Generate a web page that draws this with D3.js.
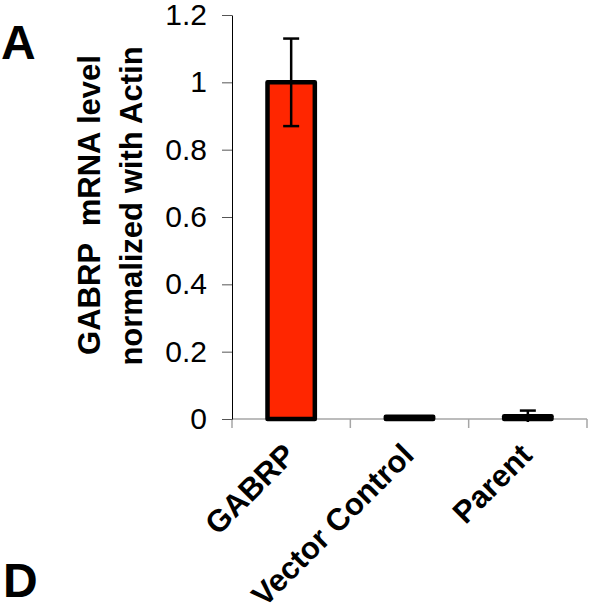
<!DOCTYPE html>
<html>
<head>
<meta charset="utf-8">
<script src="https://cdn.jsdelivr.net/npm/d3@7"></script>
<style>
  body { margin: 0; background: #fff; }
  svg { font-family: "Liberation Sans", Arial, sans-serif; }
</style>
</head>
<body>
<div class="canvas"></div>
<script>
// chart data
const categories = ['GABRP', 'Vector Control', 'Parent'];
const values = [1.0, 0.007, 0.008];
const errors = [0.13, 0, 0.017];
const yTicks = [0, 0.2, 0.4, 0.6, 0.8, 1, 1.2];

const svg = d3.select('.canvas')
  .append('svg')
    .attr('width', 597)
    .attr('height', 606);

// margins & dimensions
const margin = {top: 15, right: 10, bottom: 187, left: 232};
const graphWidth = 587 - margin.left;
const graphHeight = 606 - margin.top - margin.bottom;

const graph = svg.append('g')
  .attr('transform', `translate(${margin.left}, ${margin.top})`);

const y = d3.scaleLinear()
  .domain([0, 1.2])
  .range([graphHeight, 0]);

const x = d3.scaleBand()
  .domain(categories)
  .range([0, graphWidth])
  .paddingInner(0.6)
  .paddingOuter(0.3);

const cx = d => x(d) + x.bandwidth() / 2;

// x axis line & ticks (grey)
const xAxisGroup = graph.append('g')
  .attr('transform', `translate(0, ${graphHeight})`);
const bounds = [0, graphWidth / 3, 2 * graphWidth / 3, graphWidth];
xAxisGroup.append('line')
  .attr('x1', 0).attr('x2', graphWidth)
  .attr('stroke', '#a6a6a6').attr('stroke-width', 1.5);
xAxisGroup.selectAll('line.tk')
  .data(bounds)
  .enter().append('line')
    .attr('class', 'tk')
    .attr('x1', d => d).attr('x2', d => d)
    .attr('y1', 0).attr('y2', 9)
    .attr('stroke', '#a6a6a6').attr('stroke-width', 1.5);

// y axis
const yAxis = d3.axisLeft(y)
  .tickValues(yTicks)
  .tickSize(10)
  .tickSizeOuter(0)
  .tickPadding(15)
  .tickFormat(d => d);
const yAxisGroup = graph.append('g').call(yAxis);
yAxisGroup.select('.domain').attr('stroke', '#000').attr('stroke-width', 1);
yAxisGroup.selectAll('.tick line').attr('stroke', '#555').attr('stroke-width', 1);
yAxisGroup.selectAll('text')
  .style('font-size', '30px')
  .attr('fill', '#000')
  .style('font-family', '"Liberation Sans", Arial, sans-serif');

// bars
graph.selectAll('rect.bar')
  .data(categories)
  .enter().append('rect')
    .attr('class', 'bar')
    .attr('x', d => x(d))
    .attr('width', x.bandwidth())
    .attr('y', (d, i) => y(values[i]))
    .attr('height', (d, i) => graphHeight - y(values[i]))
    .attr('fill', '#ff2600')
    .attr('stroke', '#000')
    .attr('stroke-width', 4.5)
    .attr('stroke-linejoin', 'round');

// error bars
const errData = categories.map((c, i) => ({c, v: values[i], e: errors[i]})).filter(d => d.e > 0);
const eb = graph.selectAll('g.err')
  .data(errData)
  .enter().append('g')
    .attr('class', 'err');
eb.append('line')
  .attr('x1', d => cx(d.c))
  .attr('x2', d => cx(d.c))
  .attr('y1', d => y(d.v - d.e))
  .attr('y2', d => y(d.v + d.e))
  .attr('stroke', '#000').attr('stroke-width', 2.5);
eb.append('line')
  .attr('x1', d => cx(d.c) - 8)
  .attr('x2', d => cx(d.c) + 8)
  .attr('y1', d => y(d.v + d.e))
  .attr('y2', d => y(d.v + d.e))
  .attr('stroke', '#000').attr('stroke-width', 2.5);
eb.filter(d => d.v - d.e > 0.05).append('line')
  .attr('x1', d => cx(d.c) - 8)
  .attr('x2', d => cx(d.c) + 8)
  .attr('y1', d => y(d.v - d.e))
  .attr('y2', d => y(d.v - d.e))
  .attr('stroke', '#000').attr('stroke-width', 2.5);

// category labels
graph.selectAll('text.cat')
  .data(categories)
  .enter().append('text')
    .attr('class', 'cat')
    .attr('transform', d => `translate(${cx(d) + 6}, ${graphHeight + 38}) rotate(-45)`)
    .attr('text-anchor', 'end')
    .style('font-size', '31px')
    .attr('font-weight', 'bold')
    .text(d => d);

// y axis title
const yTitle = svg.append('text')
  .attr('transform', 'rotate(-90)')
  .attr('text-anchor', 'middle')
  .style('font-size', '31px')
  .attr('font-weight', 'bold');
yTitle.append('tspan')
  .attr('x', -205).attr('y', 100)
  .style('white-space', 'pre')
  .text('GABRP  mRNA level');
yTitle.append('tspan')
  .attr('x', -206).attr('y', 142)
  .text('normalized with Actin');

// panel letters
svg.append('text')
  .attr('x', 1).attr('y', 59)
  .style('font-size', '48px').attr('font-weight', 'bold')
  .text('A');
svg.append('text')
  .attr('x', 3).attr('y', 597)
  .style('font-size', '48px').attr('font-weight', 'bold')
  .text('D');
</script>
</body>
</html>
